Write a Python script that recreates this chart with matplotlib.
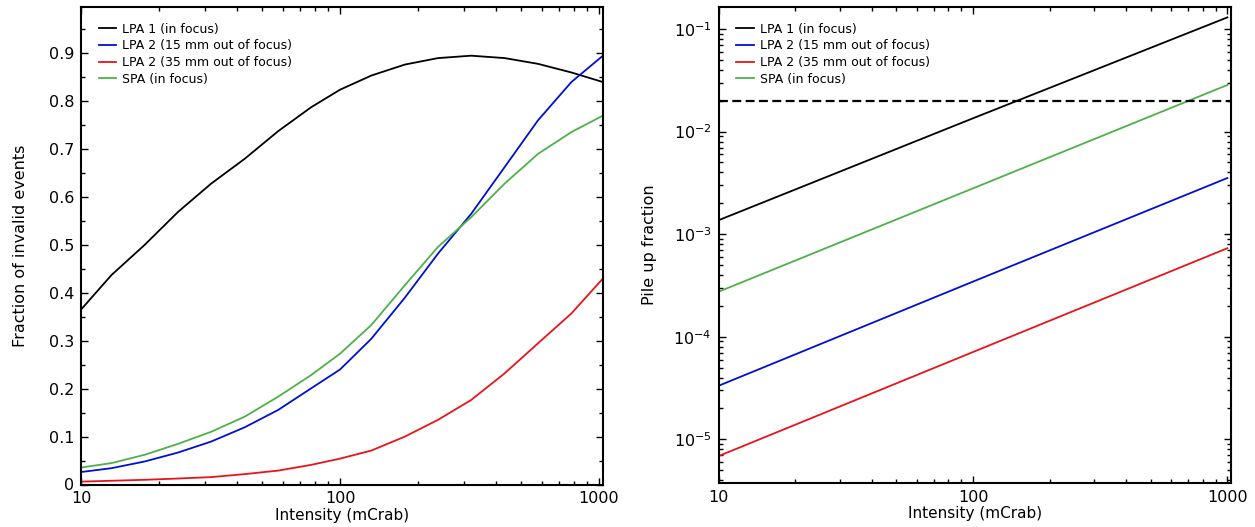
import numpy as np
import matplotlib
matplotlib.use("Agg")
import matplotlib.pyplot as plt
from matplotlib.ticker import FixedLocator, FuncFormatter, LogLocator, NullFormatter, MultipleLocator

# ---- data ----
labels = ["LPA 1 (in focus)", "LPA 2 (15 mm out of focus)",
          "LPA 2 (35 mm out of focus)", "SPA (in focus)"]
colors = ["#000000", "#0010d0", "#e8141b", "#4fb04a"]

intensity = [10, 13.1, 17.6, 23.7, 31.8, 42.9, 57.7, 77.4, 100, 132, 178, 239, 321, 432, 581, 782, 1035]
invalid_lpa1 = [0.365, 0.437, 0.500, 0.569, 0.628, 0.680, 0.7375, 0.7875, 0.824, 0.8535, 0.8765, 0.890, 0.895, 0.890, 0.878, 0.860, 0.840]
invalid_lpa2_15 = [0.026, 0.034, 0.048, 0.0667, 0.0896, 0.1195, 0.1556, 0.2008, 0.240, 0.304, 0.390, 0.482, 0.565, 0.6625, 0.760, 0.840, 0.895]
invalid_lpa2_35 = [0.006, 0.0078, 0.0098, 0.0125, 0.0154, 0.0217, 0.029, 0.041, 0.054, 0.0708, 0.100, 0.135, 0.1765, 0.232, 0.2946, 0.357, 0.430]
invalid_spa = [0.0354, 0.0446, 0.062, 0.0848, 0.110, 0.1417, 0.1833, 0.2285, 0.273, 0.3327, 0.416, 0.496, 0.558, 0.628, 0.690, 0.7355, 0.770]

pile_intensity = [10, 100, 1000]
pile_lpa1 = [1.37e-3, 1.35e-2, 0.130]
pile_lpa2_15 = [3.33e-5, 3.45e-4, 3.53e-3]
pile_lpa2_35 = [6.87e-6, 7.1e-5, 7.3e-4]
pile_spa = [2.75e-4, 2.8e-3, 2.85e-2]
pile_limit = 0.02

left_yticks = [0, 0.1, 0.2, 0.3, 0.4, 0.5, 0.6, 0.7, 0.8, 0.9]
x_ticks = [10, 100, 1000]

# ---- figure ----
plt.rcParams['font.family'] = ['DejaVu Sans']
fig = plt.figure(figsize=(12.55, 5.27), dpi=100)
W, H = 1255, 527
def ax_at(x0, y0, x1, y1):
    return fig.add_axes([x0 / W, 1 - y1 / H, (x1 - x0) / W, (y1 - y0) / H])

ax1 = ax_at(81, 7.3, 602.7, 484.5)
ax2 = ax_at(718.7, 7.3, 1231, 483)

def style(ax):
    for s in ax.spines.values():
        s.set_linewidth(1.5)
    ax.tick_params(which='both', direction='in', top=True, right=True,
                   labelsize=11.5, width=1.0, pad=5)
    ax.tick_params(which='major', length=5)
    ax.tick_params(which='minor', length=3)
    ax.set_xscale('log')
    ax.xaxis.set_major_locator(FixedLocator(x_ticks))
    ax.xaxis.set_major_formatter(FuncFormatter(lambda v, p: f"{v:g}"))
    ax.xaxis.set_minor_locator(LogLocator(base=10, subs=np.arange(2, 10)))
    ax.xaxis.set_minor_formatter(NullFormatter())
    ax.set_xlim(10, 1033)
    ax.set_xlabel("Intensity (mCrab)", fontsize=11, labelpad=1)

series1 = [invalid_lpa1, invalid_lpa2_15, invalid_lpa2_35, invalid_spa]
for y, c, l in zip(series1, colors, labels):
    ax1.plot(intensity, y, color=c, lw=1.3, label=l)
style(ax1)
ax1.set_ylim(0, 0.996)
ax1.yaxis.set_major_locator(FixedLocator(left_yticks))
ax1.yaxis.set_major_formatter(FuncFormatter(lambda v, p: "0" if abs(v) < 1e-9 else f"{v:.1f}"))
ax1.yaxis.set_minor_locator(MultipleLocator(0.05))
ax1.set_ylabel("Fraction of invalid events", fontsize=11.5, labelpad=15)

series2 = [pile_lpa1, pile_lpa2_15, pile_lpa2_35, pile_spa]
for y, c, l in zip(series2, colors, labels):
    ax2.plot(pile_intensity, y, color=c, lw=1.3, label=l)
ax2.axhline(pile_limit, color='black', lw=1.6, ls=(0, (4, 2)))
style(ax2)
ax2.set_yscale('log')
ax2.set_ylim(3.75e-6, 0.163)
ax2.yaxis.set_minor_locator(LogLocator(base=10, subs=np.arange(2, 10)))
ax2.yaxis.set_minor_formatter(NullFormatter())
ax2.set_ylabel("Pile up fraction", fontsize=11.5, labelpad=12)

for ax in (ax1, ax2):
    ax.legend(loc='upper left', bbox_to_anchor=(0.034, 0.968), frameon=False,
              fontsize=9, handlelength=1.4, handletextpad=0.5, labelspacing=0.3,
              borderpad=0, borderaxespad=0)

fig.savefig("out.png", dpi=100)
